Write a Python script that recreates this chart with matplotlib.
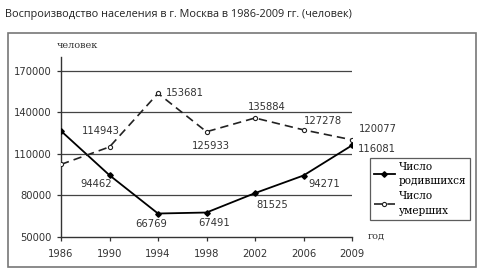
import matplotlib
matplotlib.use("Agg")
import matplotlib.pyplot as plt
from matplotlib.patches import Rectangle

# ============================================================
# DATA
# ============================================================
years = ["1986", "1990", "1994", "1998", "2002", "2006", "2009"]
born = [126500, 94462, 66769, 67491, 81525, 94271, 116081]
died = [102300, 114943, 153681, 125933, 135884, 127278, 120077]
born_labels = ["", "94462", "66769", "67491", "81525", "94271", "116081"]
died_labels = ["", "114943", "153681", "125933", "135884", "127278", "120077"]
yticks = [50000, 80000, 110000, 140000, 170000]

# label offsets in pixels (dx, dy, ha)
born_offsets = [(0, 0, "center"), (-13, -9, "center"), (-7, -10, "center"),
                (8, -10, "center"), (17, -12, "center"), (21, -8, "center"),
                (6, -4, "left")]
died_offsets = [(0, 0, "center"), (-9, 16, "center"), (8, 0, "left"),
                (4, -14, "center"), (12, 11, "center"), (19, 9, "center"),
                (7, 11, "left")]

W, H = 480, 274
fig = plt.figure(figsize=(W / 100, H / 100), dpi=100)

def fx(px):
    return px / W

def fy(py):
    return 1 - py / H

# outer frame
fig.patches.append(Rectangle((fx(8), fy(267)), fx(476) - fx(8), fy(33) - fy(267),
                             transform=fig.transFigure, fill=False,
                             edgecolor="#777777", linewidth=1.2))

fig.text(fx(5), fy(14), "Воспроизводство населения в г. Москва в 1986-2009 гг. (человек)",
         fontsize=7.8, family="Open Sans", color="#222222", va="center", ha="left")

ax = fig.add_axes([fx(61), fy(236.7), fx(352) - fx(61), fy(57) - fy(236.7)])
ax.set_xlim(0, len(years) - 1)
ax.set_ylim(50000, 180000)
ax.patch.set_alpha(0)

for s in ["top", "right"]:
    ax.spines[s].set_visible(False)
for s in ["left", "bottom"]:
    ax.spines[s].set_linewidth(1.0)
    ax.spines[s].set_color("#333333")

for v in yticks[1:]:
    ax.axhline(v, color="#444444", linewidth=0.9, zorder=1)

x = list(range(len(years)))
ax.set_xticks(x)
ax.set_xticklabels(years)
ax.set_yticks(yticks)
ax.set_yticklabels([str(v) for v in yticks])
ax.tick_params(axis="both", direction="out", length=3, width=0.9, color="#333333",
               labelsize=7.2, labelcolor="#333333", pad=4)
ax.tick_params(axis="x", pad=6)

ax.plot(x, born, color="black", linewidth=1.3, marker="D", markersize=2.8,
        zorder=3, label="Число\nродившихся")
ax.plot(x, died, color="#222222", linewidth=1.2, dashes=(5, 3), marker="o",
        markersize=3, markerfacecolor="white", markeredgewidth=0.8, zorder=3,
        label="Число\nумерших")

for i, lab in enumerate(born_labels):
    if lab:
        dx, dy, ha = born_offsets[i]
        ax.annotate(lab, (x[i], born[i]), xytext=(dx, dy), textcoords="offset pixels",
                    ha=ha, va="center", fontsize=7.2, color="#333333")
for i, lab in enumerate(died_labels):
    if lab:
        dx, dy, ha = died_offsets[i]
        ax.annotate(lab, (x[i], died[i]), xytext=(dx, dy), textcoords="offset pixels",
                    ha=ha, va="center", fontsize=7.2, color="#333333")

fig.text(fx(57), fy(46), "человек", fontsize=7, family="DejaVu Serif",
         color="#333333", va="center", ha="left")
fig.text(fx(368), fy(236), "год", fontsize=7, family="DejaVu Serif",
         color="#333333", va="center", ha="left")

leg = fig.legend(loc="upper left", bbox_to_anchor=(fx(370), fy(158)),
                 bbox_transform=fig.transFigure, frameon=True, fancybox=False,
                 prop={"family": "DejaVu Serif", "size": 7.6}, handlelength=2.0,
                 borderpad=0.35, labelspacing=0.45, handletextpad=0.35,
                 borderaxespad=0)
for t in leg.get_texts():
    t.set_linespacing(1.6)
leg.get_frame().set_edgecolor("#333333")
leg.get_frame().set_linewidth(0.9)

fig.savefig("out.png", dpi=100)
